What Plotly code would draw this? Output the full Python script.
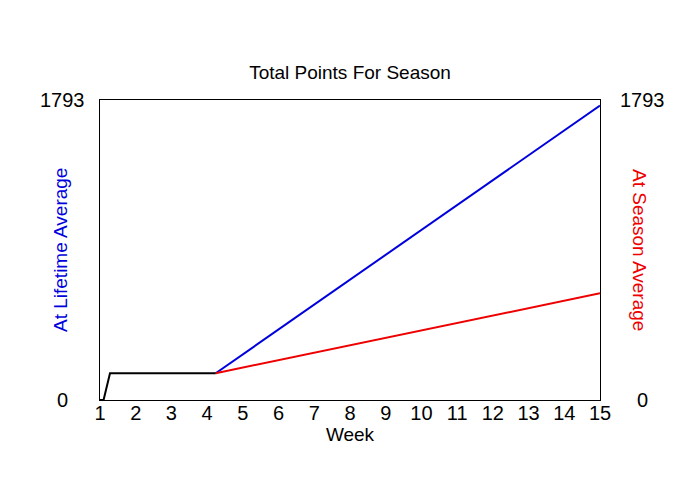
import plotly.graph_objects as go

# Data
black_weeks = [1, 1.1, 1.28, 4.24]
black_points = [0, 0, 160, 160]
blue_weeks = [4.24, 15]
blue_points = [160, 1760]
red_weeks = [4.24, 15]
red_points = [160, 638]
y_ticks = [0, 1793]
x_ticks = list(range(1, 16))

FONT = "Liberation Sans, Arial, sans-serif"

fig = go.Figure()
fig.add_trace(go.Scatter(x=blue_weeks, y=blue_points, mode="lines",
                         line=dict(color="#0000dd", width=2), showlegend=False))
fig.add_trace(go.Scatter(x=red_weeks, y=red_points, mode="lines",
                         line=dict(color="#ee0000", width=2), showlegend=False))
fig.add_trace(go.Scatter(x=black_weeks, y=black_points, mode="lines",
                         line=dict(color="black", width=2), showlegend=False))

fig.update_layout(
    width=700, height=500,
    margin=dict(l=92, r=108, t=92, b=108),
    paper_bgcolor="white", plot_bgcolor="white",
    font=dict(family=FONT, color="black"),
    title=dict(text="Total Points For Season", x=(92 + 250) / 700, xanchor="center",
               y=1 - 64 / 500, yanchor="middle", yref="container",
               font=dict(size=19, color="black")),
    xaxis=dict(range=[1, 15], tickvals=x_ticks, ticktext=[str(v) for v in x_ticks],
               showgrid=False, zeroline=False, showline=True, mirror=True,
               linecolor="black", linewidth=1, ticks="", ticklabelstandoff=-5,
               tickfont=dict(size=20), title=dict(text="Week", font=dict(size=19), standoff=0)),
    yaxis=dict(range=[0, 1793], tickvals=y_ticks, showticklabels=False,
               showgrid=False, zeroline=False, showline=True, mirror=True,
               linecolor="black", linewidth=1, ticks=""),
)

ann = []
for v in y_ticks:
    ann.append(dict(x=-0.076, y=v, xref="paper", yref="y", text=str(v), showarrow=False,
                    xanchor="center", yanchor="middle", font=dict(size=20, color="black")))
    ann.append(dict(x=1.084, y=v, xref="paper", yref="y", text=str(v), showarrow=False,
                    xanchor="center", yanchor="middle", font=dict(size=20, color="black")))
ann.append(dict(x=-0.08, y=0.5, xref="paper", yref="paper", text="At Lifetime Average",
                textangle=-90, showarrow=False, xanchor="center", yanchor="middle",
                font=dict(size=19, color="#0000dd")))
ann.append(dict(x=1.08, y=0.5, xref="paper", yref="paper", text="At Season Average",
                textangle=90, showarrow=False, xanchor="center", yanchor="middle",
                font=dict(size=19, color="#ee0000")))
fig.update_layout(annotations=ann)

fig.write_html("out.html")
